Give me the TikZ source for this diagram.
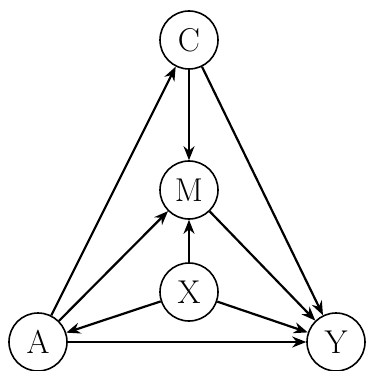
\documentclass[tikz,border=0pt]{standalone}
\usetikzlibrary{arrows.meta}
\begin{document}
\begin{tikzpicture}[x=1pt,y=-1pt,
  var/.style={circle,draw,line width=1.6pt,minimum size=58pt,inner sep=0pt,font=\fontsize{33}{38}\selectfont},
  edge/.style={line width=2.2pt,-{Stealth[length=14pt,width=11pt]}}]
\useasboundingbox (0,0) rectangle (366,371);
\node[var] (C) at (189,40) {C};
\node[var] (M) at (189,190) {M};
\node[var] (X) at (189,292) {X};
\node[var] (A) at (38,342) {A};
\node[var] (Y) at (336,342) {Y};
\draw[edge] (A) -- (C);
\draw[edge] (C) -- (M);
\draw[edge] (C) -- (Y);
\draw[edge] (A) -- (M);
\draw[edge] (X) -- (M);
\draw[edge] (X) -- (A);
\draw[edge] (X) -- (Y);
\draw[edge] (M) -- (Y);
\draw[edge] (A) -- (Y);
\end{tikzpicture}
\end{document}
